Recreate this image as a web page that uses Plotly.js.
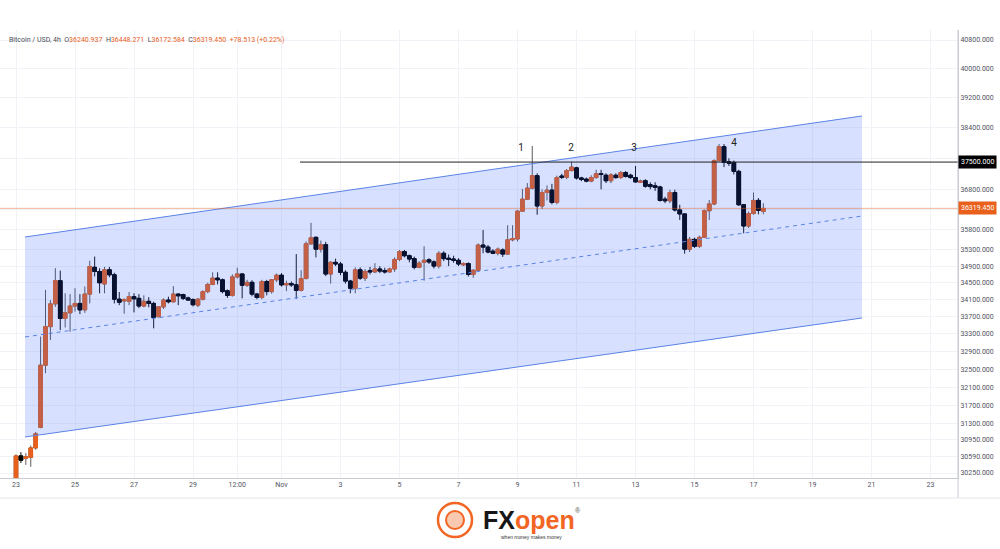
<!DOCTYPE html>
<html><head><meta charset="utf-8">
<script src="https://cdn.plot.ly/plotly-3.0.1.min.js"></script>
<style>html,body{margin:0;padding:0;background:#fff}#chart{width:1000px;height:549px}</style>
</head><body><div id="chart"></div>
<script>
// ---- data (4h candles, BTC/USD, starting 2023-10-23 00:00) ----
const firstCandle = Date.UTC(2023, 9, 23, 0, 0);
const candleHours = 4;
const openP = [30080,30610,30560,30580,30780,31220,32590,33470,34000,34550,33660,33790,33950,34010,33860,34230,34870,34770,34470,34810,34690,34110,34070,34060,34170,34130,33950,34060,34010,33700,33930,34090,34050,34230,34220,34140,34100,33970,34110,34290,34460,34610,34570,34310,34200,34640,34710,34440,34510,34230,34150,34530,34290,34570,34680,34450,34480,34450,34320,34600,35440,35600,35310,35420,34710,34990,34950,34750,34540,34370,34810,34610,34790,34760,34830,34790,34760,34830,35060,35250,35150,35080,34870,34990,35050,35000,34900,35210,35090,35070,35040,34930,34960,34700,34800,35410,35360,35260,35210,35290,35190,35540,35560,36250,36550,36830,37150,36380,36720,36780,36470,37140,37110,37280,37350,37090,37060,37010,37100,37200,37160,37020,37160,37100,37230,37160,37100,36980,37020,36920,36890,36860,36550,36510,36720,36280,36180,35310,35550,35380,35600,36260,36430,37540,37900,37510,37490,37260,36410,35880,36190,36520,36240.937];
const highP = [30640,30690,30670,30830,31120,33240,34330,34090,34850,34790,34250,34230,34370,34230,34410,35030,35130,34850,34880,34880,34740,34280,34130,34280,34250,34230,34200,34160,34050,33950,34130,34170,34420,34250,34240,34170,34130,34140,34320,34500,34750,34750,34600,34340,34700,34860,34720,34570,34560,34260,34570,34570,34590,34720,34730,34550,34530,35190,34800,35500,35960,35620,35520,35490,35020,35080,35000,34800,34570,34870,34870,34830,34880,34970,34900,34860,34860,35110,35290,35290,35180,35130,35020,35380,35090,35040,35260,35260,35180,35150,35090,34990,34990,34820,35450,35780,35410,35310,35350,35330,35900,35900,36280,36810,36960,37920,37210,36800,36900,36940,37150,37200,37320,37510,37380,37120,37100,37160,37300,37300,37210,37210,37210,37270,37270,37200,37400,37050,37060,36980,36980,36890,36610,36790,36790,36410,36190,35610,35590,35640,36290,36530,37570,37970,37970,37600,37540,37300,36430,36240,36720,36580,36448.271];
const lowP = [30050,30460,30420,30380,30740,31200,32410,33160,33930,33390,33450,33350,33820,33760,33790,34010,34650,34250,34250,34630,34010,33970,33770,33970,33800,33900,33920,33920,33430,33680,33880,34010,34030,33970,34090,34070,33940,33920,34080,34250,34440,34460,34250,34140,34170,34600,34130,34400,34180,34110,34110,34200,34240,34520,34410,34300,34400,34120,34290,34580,35420,35110,35230,34660,34480,34900,34680,34480,34250,34250,34570,34540,34700,34730,34730,34720,34750,34760,35020,35110,34990,34820,34850,34550,34950,34840,34840,35020,34900,34980,34900,34900,34650,34620,34780,35210,35210,35190,35160,35120,35170,35500,35500,36230,36530,36800,36160,36300,36520,36420,36420,37060,37060,37260,37050,37010,36980,36980,37070,36800,36960,36960,37070,37070,37100,37070,36970,36960,36840,36800,36760,36490,36450,36450,36240,36030,35200,35240,35340,35340,35580,36030,36400,37510,37370,37400,37180,36380,35700,35830,36160,36170,36172.584];
const closeP = [30610,30520,30590,30780,31080,32590,33470,34000,34550,33660,33790,33950,34010,33860,34230,34890,34770,34500,34810,34690,34110,34040,34100,34170,34120,33950,34060,34010,33680,33930,34090,34050,34230,34190,34130,34090,33980,34110,34290,34460,34610,34570,34290,34200,34640,34710,34440,34510,34230,34150,34530,34290,34570,34680,34450,34480,34450,34320,34600,35440,35590,35310,35420,34710,34990,34950,34750,34540,34370,34810,34610,34770,34760,34830,34780,34760,34830,35060,35250,35150,35070,34870,34970,35040,35000,34900,35210,35080,35060,35040,34950,34960,34700,34800,35410,35360,35240,35210,35310,35190,35540,35570,36250,36550,36830,37150,36380,36720,36780,36470,37100,37110,37280,37370,37090,37050,37010,37100,37200,37180,37020,37170,37100,37230,37130,37100,36990,37010,36880,36870,36850,36520,36510,36720,36280,36180,35310,35550,35380,35600,36260,36430,37540,37900,37490,37470,37260,36410,35880,36190,36520,36270,36319.450];

const lastPrice = 36319.450;
const resistanceLevel = 37500;
const resistanceStart = '2023-11-01 15:00';

const channelX = ['2023-10-23 07:20', '2023-11-20 16:15'];
const channelTopY = [35608, 38713];
const channelMidY = [33231, 36128];
const channelBottomY = [31012, 33670];

const peakLabels = ['1', '2', '3', '4'];
const peakX = ['2023-11-09 02:50', '2023-11-10 19:30', '2023-11-12 22:45', '2023-11-16 08:10'];
const peakY = [37866, 37866, 37866, 37997];

// grid levels; the two levels hidden behind the price labels carry no text
const yTickVals = [30250,30590,30950,31300,31700,32100,32500,32900,33300,33700,34100,34500,34900,35300,35800,36300,36800,37600,38400,39200,40000,40800];
const yHiddenTicks = [36300, 37600];
const xTickVals = ['2023-10-23','2023-10-25','2023-10-27','2023-10-29','2023-10-30 12:00','2023-11-01','2023-11-03','2023-11-05','2023-11-07','2023-11-09','2023-11-11','2023-11-13','2023-11-15','2023-11-17','2023-11-19','2023-11-21','2023-11-23'];
const xTickText = ['23','25','27','29','12:00','Nov','3','5','7','9','11','13','15','17','19','21','23'];

const header = {symbol: 'Bitcoin / USD, 4h', o: '36240.937', h: '36448.271', l: '36172.584', c: '36319.450', chg: '+78.513 (+0.22%)'};

// ---- build ----
const times = openP.map((_, i) => new Date(firstCandle + i * candleHours * 3600e3).toISOString().slice(0, 16).replace('T', ' '));
const bodyHigh = openP.map((o, i) => Math.max(o, closeP[i]));
const bodyLow = openP.map((o, i) => Math.min(o, closeP[i]));

const ORANGE = '#e8601c';
const BLACK = '#000000';
const BLUE = '#5a82e6';
const AXIS_FONT = {family: 'Roboto, "DejaVu Sans", sans-serif', size: 7, color: '#50535e'};

const traces = [
  { // channel fill
    type: 'scatter', mode: 'lines', hoverinfo: 'skip',
    x: [channelX[0], channelX[1], channelX[1], channelX[0], channelX[0]],
    y: [channelTopY[0], channelTopY[1], channelBottomY[1], channelBottomY[0], channelTopY[0]],
    fill: 'toself', fillcolor: 'rgba(41,98,255,0.19)', line: {width: 0}
  },
  {type: 'scatter', mode: 'lines', x: channelX, y: channelTopY, line: {color: BLUE, width: 1}},
  {type: 'scatter', mode: 'lines', x: channelX, y: channelBottomY, line: {color: BLUE, width: 1}},
  {type: 'scatter', mode: 'lines', x: channelX, y: channelMidY, line: {color: BLUE, width: 1, dash: '4px,4px'}},
  {type: 'scatter', mode: 'lines', x: ['2023-10-20', '2023-11-30'], y: [lastPrice, lastPrice], line: {color: 'rgba(232,96,28,0.45)', width: 1}},
  {type: 'scatter', mode: 'lines', x: [resistanceStart, '2023-11-30'], y: [resistanceLevel, resistanceLevel], line: {color: '#222', width: 1}},
  { // wicks
    type: 'candlestick', x: times, open: openP, high: highP, low: lowP, close: closeP,
    increasing: {line: {color: '#5b5b5b', width: 1}, fillcolor: ORANGE},
    decreasing: {line: {color: '#111111', width: 1}, fillcolor: BLACK},
    whiskerwidth: 0, hoverinfo: 'skip'
  },
  { // bodies
    type: 'candlestick', x: times, open: openP, high: bodyHigh, low: bodyLow, close: closeP,
    increasing: {line: {color: ORANGE, width: 1}, fillcolor: ORANGE},
    decreasing: {line: {color: BLACK, width: 1}, fillcolor: BLACK},
    whiskerwidth: 0, hoverinfo: 'skip'
  },
  {type: 'scatter', mode: 'text', x: peakX, y: peakY, text: peakLabels, textposition: 'middle center',
   textfont: {family: 'Roboto, sans-serif', size: 10, color: '#222'}}
];

const logoY = (px) => (478 - px) / 448;
const logoX = (px) => px / 958;

const layout = {
  width: 1000, height: 549,
  margin: {l: 0, r: 42, t: 30, b: 71},
  paper_bgcolor: '#ffffff', plot_bgcolor: '#ffffff',
  showlegend: false, hovermode: false, dragmode: false,
  boxgap: 0.25, boxgroupgap: 0,
  xaxis: {
    type: 'date', range: ['2023-10-22 10:59', '2023-11-23 22:22'],
    tickvals: xTickVals, ticktext: xTickText, tickfont: AXIS_FONT, ticks: '',
    showgrid: true, gridcolor: '#f0f2f7', gridwidth: 1,
    showline: true, linecolor: '#c8cbd2', linewidth: 1, mirror: false,
    rangeslider: {visible: false}, fixedrange: true, zeroline: false
  },
  yaxis: {
    type: 'log', side: 'right',
    range: [Math.log10(30146), Math.log10(41083)],
    tickvals: yTickVals, ticktext: yTickVals.map(v => yHiddenTicks.includes(v) ? '' : v.toFixed(3)), tickfont: AXIS_FONT, ticks: '',
    showgrid: true, gridcolor: '#f0f2f7', gridwidth: 1,
    showline: true, linecolor: '#c8cbd2', linewidth: 1,
    fixedrange: true, zeroline: false
  },
  annotations: [
    {xref: 'paper', yref: 'paper', x: 0.007, y: logoY(40), xanchor: 'left', yanchor: 'middle', showarrow: false,
     font: {family: 'Roboto, "DejaVu Sans", sans-serif', size: 7, color: '#4a4d57'},
     text: header.symbol + '  O<span style="color:' + ORANGE + '">' + header.o + '</span>  H<span style="color:' + ORANGE + '">' + header.h +
           '</span>  L<span style="color:' + ORANGE + '">' + header.l + '</span>  C<span style="color:' + ORANGE + '">' + header.c +
           '</span>  <span style="color:' + ORANGE + '">' + header.chg + '</span>'},
    {xref: 'paper', yref: 'y', x: 1, y: Math.log10(resistanceLevel), xanchor: 'left', yanchor: 'middle', showarrow: false,
     text: resistanceLevel.toFixed(3), bgcolor: '#000', borderpad: 2, xshift: 0,
     font: {family: 'Roboto, sans-serif', size: 7, color: '#fff'}},
    {xref: 'paper', yref: 'y', x: 1, y: Math.log10(lastPrice), xanchor: 'left', yanchor: 'middle', showarrow: false,
     text: lastPrice.toFixed(3), bgcolor: ORANGE, borderpad: 2,
     font: {family: 'Roboto, sans-serif', size: 7, color: '#fff'}},
    {xref: 'paper', yref: 'paper', x: logoX(529), y: logoY(520), xanchor: 'center', yanchor: 'middle', showarrow: false,
     text: '<b><span style="color:#161616">FX</span><span style="color:#f26522">open</span></b>',
     font: {family: '"Liberation Sans", Arial, sans-serif', size: 25}},
    {xref: 'paper', yref: 'paper', x: logoX(531), y: logoY(537), xanchor: 'center', yanchor: 'middle', showarrow: false,
     text: 'when money makes money', font: {family: '"Liberation Sans", Arial, sans-serif', size: 5, color: '#333'}},
    {xref: 'paper', yref: 'paper', x: logoX(578), y: logoY(510), xanchor: 'center', yanchor: 'middle', showarrow: false,
     text: '®', font: {family: '"Liberation Sans", Arial, sans-serif', size: 7, color: '#555'}}
  ],
  shapes: [
    {type: 'circle', xref: 'paper', yref: 'paper', x0: logoX(438), x1: logoX(472), y0: logoY(537), y1: logoY(503),
     line: {color: '#f26522', width: 2.5}, fillcolor: 'rgba(0,0,0,0)'},
    {type: 'circle', xref: 'paper', yref: 'paper', x0: logoX(446), x1: logoX(464), y0: logoY(529), y1: logoY(511),
     line: {color: '#f26522', width: 2}, fillcolor: 'rgba(242,101,34,0.35)'},
    {type: 'line', xref: 'paper', yref: 'paper', x0: 1, x1: 1, y0: logoY(498), y1: 1, line: {color: '#c8cbd2', width: 1}},
    {type: 'line', xref: 'paper', yref: 'paper', x0: 0, x1: 1.044, y0: logoY(498), y1: logoY(498), line: {color: '#e3e5ea', width: 1}}
  ]
};

Plotly.newPlot('chart', traces, layout, {displayModeBar: false, staticPlot: true});
</script>
</body></html>
